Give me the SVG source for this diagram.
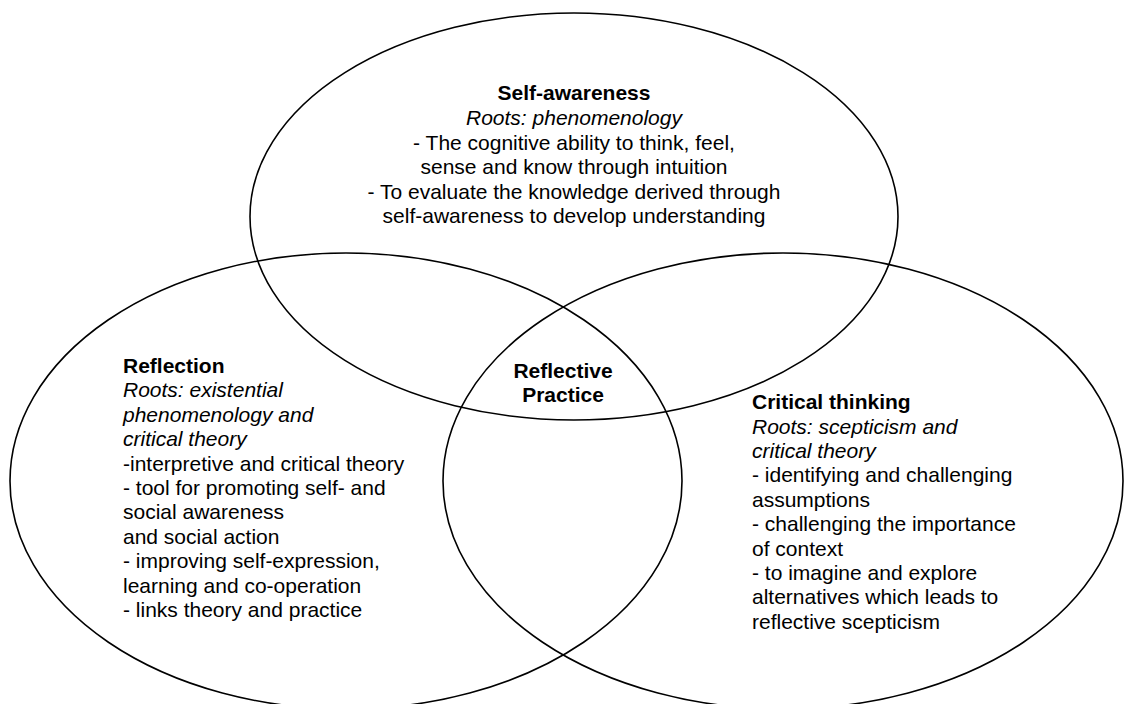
<svg xmlns="http://www.w3.org/2000/svg" width="1125" height="704" viewBox="0 0 1125 704">
<style>
.c{fill:none;stroke:#000;stroke-width:1.6}
text{font-family:"Liberation Sans",Arial,sans-serif;font-size:21px;fill:#000}
.b{font-weight:bold}
.i{font-style:italic}
.m{text-anchor:middle}
</style>
<rect width="1125" height="704" fill="#fff"/>
<g id="connectors"></g>
<g id="self-awareness">
<ellipse class="c" cx="574" cy="216.5" rx="324" ry="203.5"/>
<text class="m b" x="574" y="100">Self-awareness</text>
<text class="m i" x="574" y="125">Roots: phenomenology</text>
<text class="m" x="574" y="149.5">- The cognitive ability to think, feel,</text>
<text class="m" x="574" y="174">sense and know through intuition</text>
<text class="m" x="574" y="198.5">- To evaluate the knowledge derived through</text>
<text class="m" x="574" y="223">self-awareness to develop understanding</text>
</g>
<g id="reflection">
<ellipse class="c" cx="346" cy="481" rx="336" ry="228"/>
<text class="b" x="123" y="373">Reflection</text>
<text class="i" x="123" y="397">Roots: existential</text>
<text class="i" x="123" y="421.5">phenomenology and</text>
<text class="i" x="123" y="446">critical theory</text>
<text x="123" y="470.5">-interpretive and critical theory</text>
<text x="123" y="495">- tool for promoting self- and</text>
<text x="123" y="519">social awareness</text>
<text x="123" y="543.5">and social action</text>
<text x="123" y="568">- improving self-expression,</text>
<text x="123" y="592.5">learning and co-operation</text>
<text x="123" y="617">- links theory and practice</text>
</g>
<g id="critical-thinking">
<ellipse class="c" cx="783" cy="481" rx="340" ry="228"/>
<text class="b" x="752" y="409">Critical thinking</text>
<text class="i" x="752" y="433.5">Roots: scepticism and</text>
<text class="i" x="752" y="458">critical theory</text>
<text x="752" y="482">- identifying and challenging</text>
<text x="752" y="506.5">assumptions</text>
<text x="752" y="531">- challenging the importance</text>
<text x="752" y="555.5">of context</text>
<text x="752" y="580">- to imagine and explore</text>
<text x="752" y="604">alternatives which leads to</text>
<text x="752" y="628.5">reflective scepticism</text>
</g>
<g id="reflective-practice">
<text class="m b" x="563" y="378">Reflective</text>
<text class="m b" x="563" y="402">Practice</text>
</g>
</svg>
